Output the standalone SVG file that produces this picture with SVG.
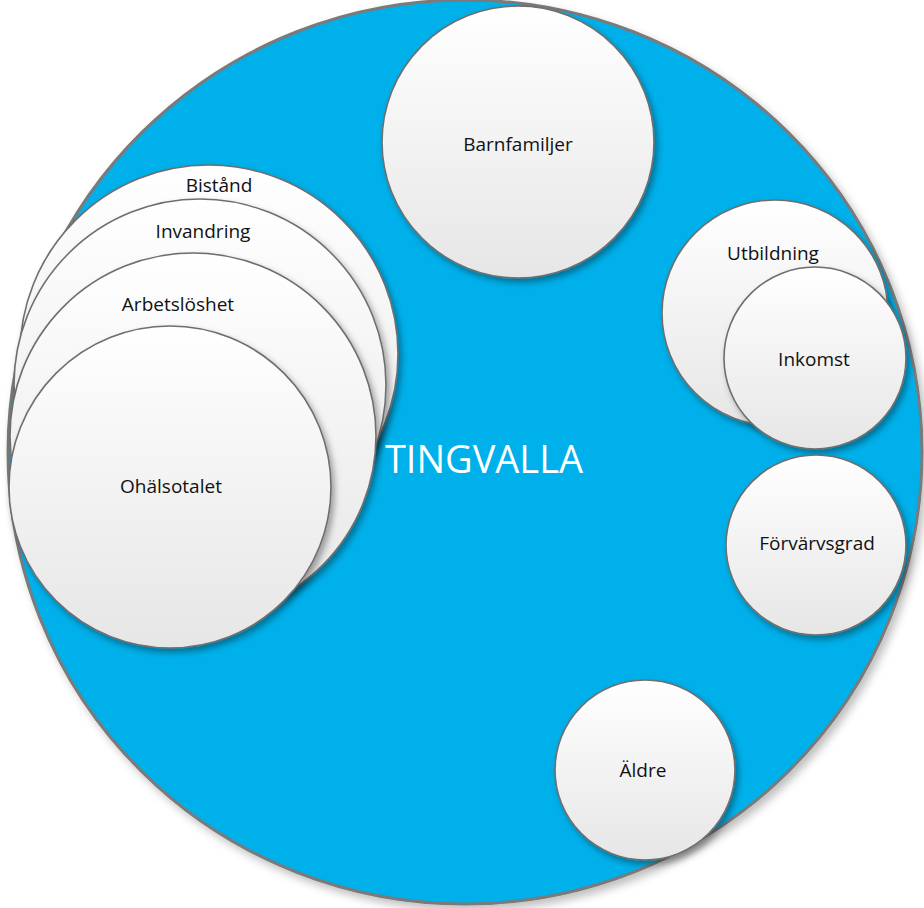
<svg xmlns="http://www.w3.org/2000/svg" width="924" height="908" viewBox="0 0 924 908">
<defs>
<linearGradient id="g" x1="0" y1="0" x2="0" y2="1">
<stop offset="0" stop-color="#ffffff"/>
<stop offset="1" stop-color="#e6e6e6"/>
</linearGradient>
<filter id="sh" x="-20%" y="-20%" width="140%" height="140%">
<feDropShadow dx="3" dy="4" stdDeviation="3" flood-color="#000" flood-opacity="0.35"/>
</filter>
<filter id="shb" x="-10%" y="-10%" width="120%" height="120%">
<feDropShadow dx="4" dy="5" stdDeviation="4" flood-color="#000" flood-opacity="0.25"/>
</filter>
</defs>
<style>
.n{fill:url(#g);stroke:#6e6e6e;stroke-width:1.6;filter:url(#sh)}
.t{font-family:"Open Sans","Noto Sans",sans-serif;font-size:19px;fill:#111;text-anchor:middle;dominant-baseline:central}
</style>
<rect width="924" height="908" fill="#ffffff"/>
<g id="tingvalla">
<ellipse cx="465" cy="452" rx="457" ry="452" fill="#00b0ea" stroke="#7a7a7a" stroke-width="3" filter="url(#shb)"/>
<text x="484" y="458" font-family="'Open Sans','Noto Sans',sans-serif" font-size="38" fill="#ffffff" text-anchor="middle" dominant-baseline="central">TINGVALLA</text>
</g>
<g id="barnfamiljer"><circle class="n" cx="518" cy="142" r="136"/><text class="t" x="518" y="144">Barnfamiljer</text></g>
<g id="bistand"><circle class="n" cx="209" cy="354" r="189"/><text class="t" x="219" y="185">Bistånd</text></g>
<g id="invandring"><circle class="n" cx="200" cy="385" r="186"/><text class="t" x="203" y="231">Invandring</text></g>
<g id="arbetsloshet"><circle class="n" cx="193" cy="436" r="183"/><text class="t" x="178" y="304">Arbetslöshet</text></g>
<g id="ohalsotalet"><circle class="n" cx="170" cy="487" r="161"/><text class="t" x="171" y="486">Ohälsotalet</text></g>
<g id="utbildning"><circle class="n" cx="775" cy="313" r="113"/><text class="t" x="773" y="253">Utbildning</text></g>
<g id="inkomst"><circle class="n" cx="815" cy="358" r="91"/><text class="t" x="814" y="359">Inkomst</text></g>
<g id="forvarvsgrad"><circle class="n" cx="816" cy="545" r="90"/><text class="t" x="817" y="543">Förvärvsgrad</text></g>
<g id="aldre"><circle class="n" cx="645" cy="770" r="90"/><text class="t" x="643" y="770">Äldre</text></g>
<g id="connectors"/>
</svg>
